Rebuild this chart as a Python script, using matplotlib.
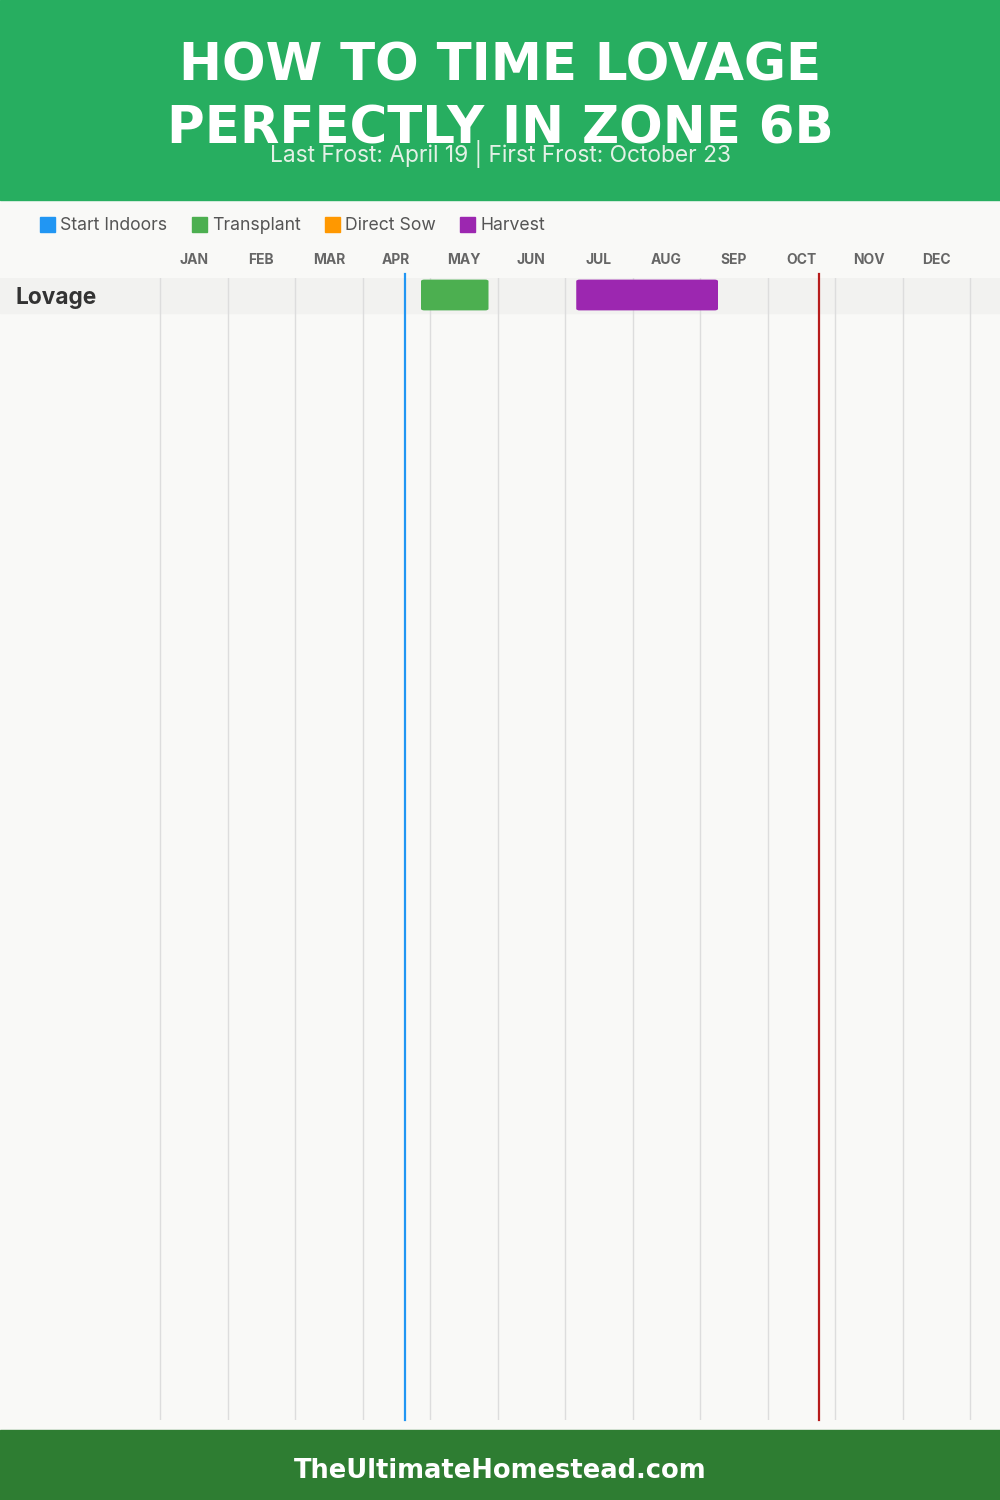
import matplotlib.pyplot as plt
from matplotlib.patches import Rectangle, FancyBboxPatch

# data
months = ['JAN', 'FEB', 'MAR', 'APR', 'MAY', 'JUN', 'JUL', 'AUG', 'SEP', 'OCT', 'NOV', 'DEC']
crops = ['Lovage']
legend_names = ['Start Indoors', 'Transplant', 'Direct Sow', 'Harvest']
legend_colors = ['#2196f3', '#4caf50', '#ff9800', '#9c27b0']
# (crop index, start month pos, end month pos, stage) ; pos = month index + day/30
tasks = [(0, 3 + 26 / 30, 4 + 26 / 30, 'Transplant'),
         (0, 6 + 5 / 30, 8 + 8 / 30, 'Harvest')]
last_frost = 3 + 19 / 30
first_frost = 9 + 23 / 30

title = 'HOW TO TIME LOVAGE\nPERFECTLY IN ZONE 6B'
subtitle = 'Last Frost: April 19 | First Frost: October 23'
footer = 'TheUltimateHomestead.com'

W, H = 1000, 1500
fig = plt.figure(figsize=(10, 15), dpi=100)
fig.patch.set_facecolor('#f9f9f7')

# background axes in pixel coords
bg = fig.add_axes([0, 0, 1, 1])
bg.set_xlim(0, W)
bg.set_ylim(H, 0)
bg.axis('off')
bg.add_patch(Rectangle((0, 0), W, 200, color='#27ae60', zorder=0))
bg.add_patch(Rectangle((0, 1430), W, 70, color='#2e7d32', zorder=0))
bg.text(W / 2, 98, title, ha='center', va='center', color='white', fontsize=37,
        fontweight='heavy', family='DejaVu Sans', linespacing=1.31, zorder=2)
bg.text(W / 2, 154, subtitle, ha='center', va='center', color='#e3f1e6', fontsize=16.4,
        family='Inter', zorder=3)
bg.text(W / 2, 1471, footer, ha='center', va='center', color='white', fontsize=18.5,
        fontweight='bold', family='DejaVu Sans')

legend_x = [40, 192, 325, 460]
for lx, name, col in zip(legend_x, legend_names, legend_colors):
    bg.add_patch(Rectangle((lx, 217), 15, 15, color=col))
    bg.text(lx + 20, 225.5, name, ha='left', va='center', color='#555555', fontsize=12.7,
            family='Inter')

# chart axes: x in months, y in rows
top, bottom = 277.5, 1420
row_h = 35
ax = fig.add_axes([0, 1 - bottom / H, 1, (bottom - top) / H])
ax.set_xlim(-160 / 67.5, 840 / 67.5)
ax.set_ylim((bottom - top) / row_h - 0.5, -0.5)
ax.axis('off')

for m in range(13):
    ax.axvline(m, color='#dddddd', lw=1, zorder=1)
for i, name in enumerate(months):
    ax.text(i + 0.5, -0.99, name, ha='center', va='center', color='#666666', fontsize=10,
            fontweight='bold', family='Inter', clip_on=False)

for r, crop in enumerate(crops):
    ax.axhspan(r - 0.5, r + 0.5, color='#f2f2f0', zorder=0)
    ax.text(-160 / 67.5 + 15 / 67.5, r + 0.08, crop, ha='left', va='center', color='#333333',
            fontsize=16.3, fontweight='bold', family='Inter')

for r, s, e, stage in tasks:
    col = legend_colors[legend_names.index(stage)]
    ax.add_patch(FancyBboxPatch((s, r - 0.44), e - s, 0.88,
                                boxstyle='round,pad=0,rounding_size=0.05',
                                mutation_aspect=0.9, color=col, zorder=3, lw=0))

ax.axvline(last_frost, ymin=0, ymax=1.003, color='#2196f3', lw=1.6, zorder=4, clip_on=False)
ax.axvline(first_frost, ymin=0, ymax=1.003, color='#b71c1c', lw=1.6, zorder=4, clip_on=False)

fig.savefig('out.png', dpi=100, facecolor=fig.get_facecolor())
